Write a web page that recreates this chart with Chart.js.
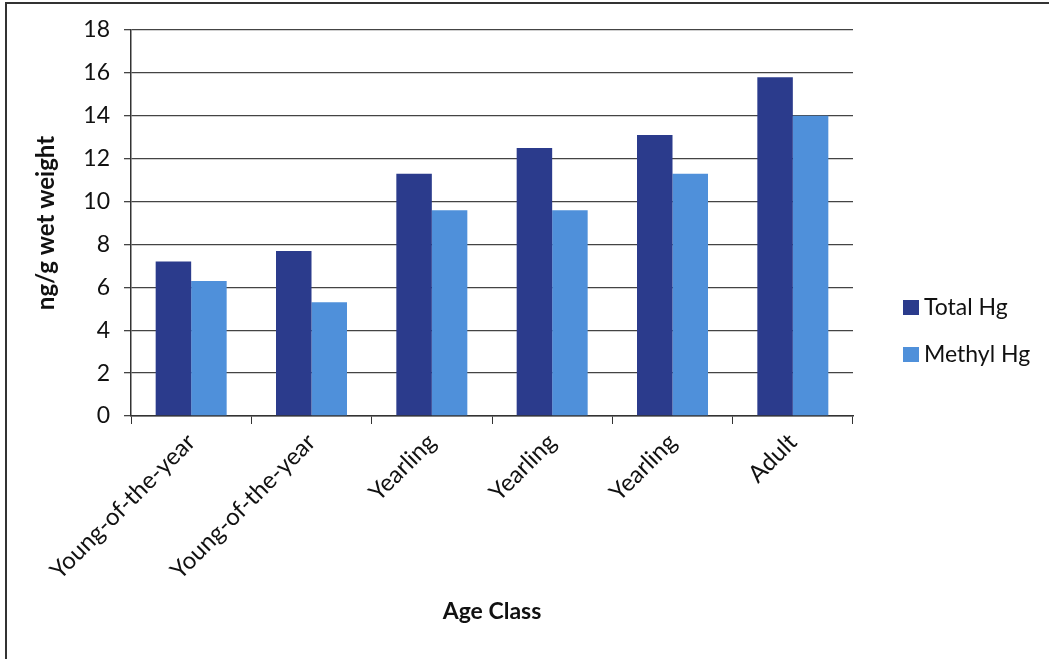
<!DOCTYPE html>
<html>
<head>
<meta charset="utf-8">
<script src="https://cdn.jsdelivr.net/npm/chart.js@4"></script>
<style>
    body { margin: 0; background: #fff; }
    #wrap { position: relative; width: 1049px; height: 659px; }
    #frame {
        position: absolute; left: 5px; top: 2px; width: 1100px; height: 700px;
        border-left: 2px solid #333; border-top: 2px solid #333; pointer-events: none;
    }
</style>
</head>
<body>
<div id="wrap">
    <canvas id="chart" width="1049" height="659"></canvas>
    <div id="frame"></div>
</div>
<script>
const categories = ['Young-of-the-year', 'Young-of-the-year', 'Yearling', 'Yearling', 'Yearling', 'Adult'];
const totalHg = [7.2, 7.7, 11.3, 12.5, 13.1, 15.8];
const methylHg = [6.3, 5.3, 9.6, 9.6, 11.3, 14.0];
const yTicks = [0, 2, 4, 6, 8, 10, 12, 14, 16, 18];

const FONT = 'Lato, Calibri, sans-serif';

// legend drawn at the right, lower than chart.js would put it
const sideLegend = {
    id: 'sideLegend',
    afterDraw(chart) {
        const ctx = chart.ctx;
        ctx.save();
        ctx.font = `23px ${FONT}`;
        ctx.textBaseline = 'middle';
        chart.data.datasets.forEach((ds, i) => {
            const y = 308 + i * 47;
            ctx.fillStyle = ds.backgroundColor;
            ctx.fillRect(903, y - 8, 16, 15);
            ctx.fillStyle = '#111';
            ctx.fillText(ds.label, 924, y);
        });
        ctx.restore();
    }
};

const ctx = document.getElementById('chart').getContext('2d');
new Chart(ctx, {
    type: 'bar',
    data: {
        labels: categories,
        datasets: [
            { label: 'Total Hg', data: totalHg, backgroundColor: '#2b3b8c' },
            { label: 'Methyl Hg', data: methylHg, backgroundColor: '#4f90da' }
        ]
    },
    options: {
        responsive: false,
        animation: false,
        layout: { padding: { left: 8, right: 196, top: 30, bottom: 34 } },
        datasets: { bar: { categoryPercentage: 0.59, barPercentage: 1.0 } },
        plugins: {
            legend: { display: false },
            tooltip: { enabled: false }
        },
        scales: {
            x: {
                grid: { display: true, drawOnChartArea: false, offset: true, color: '#333', tickLength: 8 },
                border: { display: true, color: '#333', width: 1.5 },
                ticks: {
                    font: { family: FONT, size: 24 },
                    color: '#111',
                    maxRotation: 45,
                    minRotation: 45,
                    padding: 4,
                    autoSkip: false
                },
                title: {
                    display: true,
                    text: 'Age Class',
                    font: { family: FONT, size: 23, weight: 'bold' },
                    color: '#111',
                    padding: { top: 0, bottom: 0 }
                },
                afterFit(scale) { scale.height = 659 - 416 - 34; }
            },
            y: {
                min: 0,
                max: 18,
                afterBuildTicks(scale) { scale.ticks = yTicks.map(v => ({ value: v })); },
                grid: { color: '#444', lineWidth: 1.3, tickLength: 7 },
                border: { display: true, color: '#333', width: 1.5 },
                ticks: {
                    font: { family: FONT, size: 23 },
                    color: '#111',
                    padding: 14
                },
                title: {
                    display: true,
                    text: 'ng/g wet weight',
                    font: { family: FONT, size: 24, weight: 'bold' },
                    color: '#111',
                    padding: { top: 24, bottom: 6 }
                },
                afterFit(scale) { scale.width = 131 - 8; }
            }
        }
    },
    plugins: [sideLegend]
});
</script>
</body>
</html>
